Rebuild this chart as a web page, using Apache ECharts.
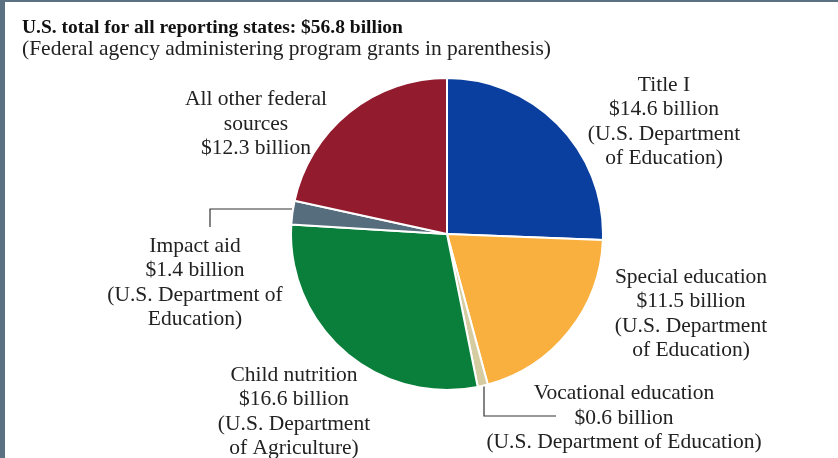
<!DOCTYPE html>
<html>
<head>
<meta charset="utf-8">
<script src="https://cdn.jsdelivr.net/npm/echarts@6/dist/echarts.min.js"></script>
<style>
html,body{margin:0;padding:0;background:#fff;}
#frame{position:absolute;left:0;top:0;width:838px;height:458px;box-sizing:border-box;border-left:5px solid #5b7081;border-top:2px solid #5b7081;background:#fff;}
#chart{position:absolute;left:0;top:0;width:838px;height:458px;}
</style>
</head>
<body>
<div id="frame"></div>
<div id="chart"></div>
<script>
const categories = ['Title I', 'Special education', 'Vocational education', 'Child nutrition', 'Impact aid', 'All other federal sources'];
const values = [14.6, 11.5, 0.6, 16.6, 1.4, 12.3];
const labelTexts = [
  'Title I\n$14.6 billion\n(U.S. Department\nof Education)',
  'Special education\n$11.5 billion\n(U.S. Department\nof Education)',
  'Vocational education\n$0.6 billion\n(U.S. Department of Education)',
  'Child nutrition\n$16.6 billion\n(U.S. Department\nof Agriculture)',
  'Impact aid\n$1.4 billion\n(U.S. Department of\nEducation)',
  'All other federal\nsources\n$12.3 billion'
];
const colors = ['#0a3f9f', '#f9b03f', '#d6cca2', '#0a7f3b', '#566d7d', '#921b2e'];
const titleText = 'U.S. total for all reporting states: $56.8 billion';
const subtitleText = '(Federal agency administering program grants in parenthesis)';

const labelPos = [
  {x: 664, y: 122},
  {x: 691, y: 314},
  {x: 624, y: 418},
  {x: 294, y: 412},
  {x: 195, y: 283},
  {x: 256, y: 124}
];
const linePts = {
  2: [[484, 384], [484, 416], [556, 416]],
  4: [[292, 209], [210, 209], [210, 227]]
};

const chart = echarts.init(document.getElementById('chart'));
chart.setOption({
  animation: false,
  title: [
    {text: titleText, left: 17, top: 13, textStyle: {fontFamily: 'Liberation Serif', fontSize: 19.5, fontWeight: 'bold', color: '#111'}},
    {text: subtitleText, left: 17, top: 33, textStyle: {fontFamily: 'Liberation Serif', fontSize: 21.5, fontWeight: 'normal', color: '#222'}}
  ],
  series: [{
    type: 'pie',
    center: [447, 234],
    radius: 156,
    startAngle: 90,
    clockwise: true,
    avoidLabelOverlap: false,
    itemStyle: {borderColor: '#fff', borderWidth: 2},
    label: {
      show: true,
      position: 'outside',
      formatter: p => labelTexts[p.dataIndex],
      fontFamily: 'Liberation Serif',
      fontSize: 21.5,
      lineHeight: 24.5,
      color: '#222',
      align: 'center'
    },
    labelLine: {show: false, lineStyle: {color: '#333', width: 1.2}},
    labelLayout: function (params) {
      const p = labelPos[params.dataIndex];
      const o = {x: p.x, y: p.y, align: 'center', verticalAlign: 'middle'};
      if (linePts[params.dataIndex]) o.labelLinePoints = linePts[params.dataIndex];
      return o;
    },
    data: categories.map((c, i) => ({
      name: c,
      value: values[i],
      itemStyle: {color: colors[i]},
      labelLine: {show: !!linePts[i]}
    }))
  }]
});
</script>
</body>
</html>
